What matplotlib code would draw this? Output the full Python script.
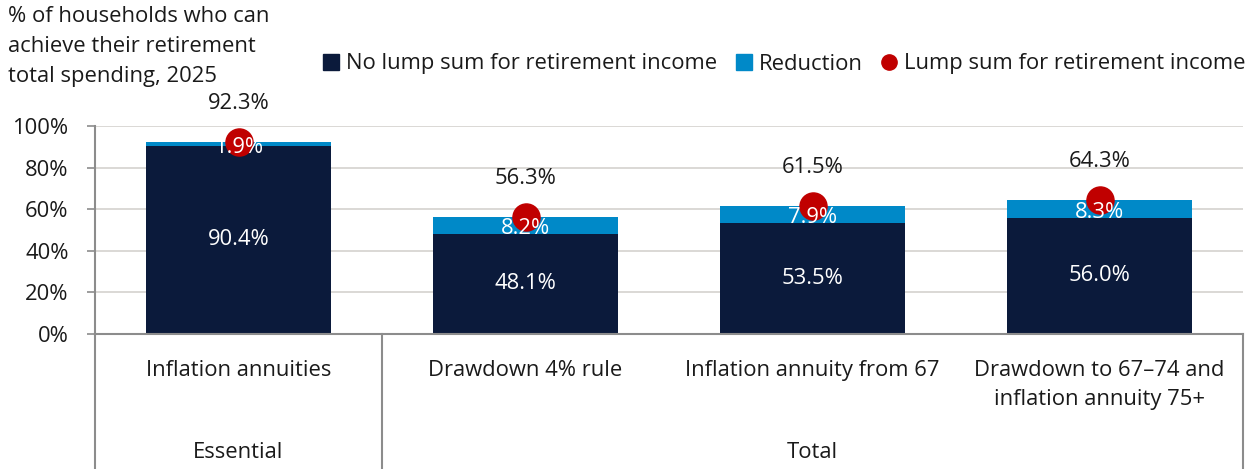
import matplotlib
matplotlib.use("Agg")
import matplotlib.pyplot as plt
from matplotlib.lines import Line2D
import matplotlib.transforms as mtransforms

plt.rcParams['font.family'] = ['Open Sans', 'DejaVu Sans']

# Data
categories = ["Inflation annuities", "Drawdown 4% rule", "Inflation annuity from 67",
              "Drawdown to 67\u201374 and\ninflation annuity 75+"]
groups = ["Essential", "Total"]
group_spans = [(0, 0), (1, 3)]
no_lump_sum = [90.4, 48.1, 53.5, 56.0]
reduction = [1.9, 8.2, 7.9, 8.3]
lump_sum = [92.3, 56.3, 61.5, 64.3]
yticks = [0, 20, 40, 60, 80, 100]

NAVY = "#0B1A3B"
BLUE = "#0089C8"
RED = "#C00000"
GRID = "#D4D2CE"
AXIS = "#8C8C8C"
TXT = "#1A1A1A"
FS = 15.8

fig = plt.figure(figsize=(12.58, 4.69), dpi=100)
ax = fig.add_axes([95 / 1258, 1 - 334 / 469, (1243 - 95) / 1258, 208 / 469])

x = list(range(len(categories)))
width = 0.645
ax.bar(x, no_lump_sum, width=width, color=NAVY, zorder=2)
ax.bar(x, reduction, width=width, bottom=no_lump_sum, color=BLUE, zorder=2)
ax.plot(x, lump_sum, linestyle="none", marker="o", markersize=19.5, color=RED, zorder=3)

for i in x:
    ax.text(i, no_lump_sum[i] / 2, f"{no_lump_sum[i]:.1f}%", ha="center", va="center",
            color="white", fontsize=FS, zorder=5)
    ax.text(i, no_lump_sum[i] + reduction[i] / 2 - 1.5, f"{reduction[i]:.1f}%", ha="center",
            va="center", color="white", fontsize=FS, zorder=5)
    ax.annotate(f"{lump_sum[i]:.1f}%", xy=(i, lump_sum[i]), xytext=(0, 28),
                textcoords="offset points", ha="center", va="center", color=TXT,
                fontsize=FS, zorder=5, annotation_clip=False)

ax.set_xlim(-0.5, len(categories) - 0.5)
ax.set_ylim(0, 100)
ax.set_yticks(yticks)
ax.set_yticklabels([f"{v}%" for v in yticks], fontsize=FS, color=TXT)
ax.yaxis.grid(True, color=GRID, linewidth=1.2, zorder=0)
ax.set_axisbelow(True)
ax.tick_params(axis="y", length=6, width=1.2, color=AXIS, pad=13)
for s in ["top", "right"]:
    ax.spines[s].set_visible(False)
ax.spines["left"].set_color(AXIS)
ax.spines["left"].set_linewidth(1.5)
ax.spines["bottom"].set_color(AXIS)
ax.spines["bottom"].set_linewidth(1.5)

# Two-level category axis
ax.set_xticks(x)
ax.set_xticklabels(categories, fontsize=FS, color=TXT, va="top", linespacing=1.5)
ax.tick_params(axis="x", length=0, pad=19)

trans = mtransforms.blended_transform_factory(ax.transData, ax.transAxes)
bottom_y = -135 / 208
for xs in [-0.5, 0.5, len(categories) - 0.5]:
    ax.plot([xs, xs], [0, bottom_y], transform=trans, color=AXIS, linewidth=1.5,
            clip_on=False, zorder=1)
for name, (a, b) in zip(groups, group_spans):
    ax.text((a + b) / 2, -118 / 208, name, transform=trans, ha="center", va="center",
            fontsize=FS, color=TXT)

# Title
fig.text(8 / 1258, 1 - 6 / 469, "% of households who can\nachieve their retirement\ntotal spending, 2025",
         ha="left", va="top", fontsize=FS, color=TXT, linespacing=1.56)

# Legend
handles = [
    Line2D([], [], linestyle="none", marker="s", markersize=11, color=NAVY),
    Line2D([], [], linestyle="none", marker="s", markersize=11, color=BLUE),
    Line2D([], [], linestyle="none", marker="o", markersize=11, color=RED),
]
labels = ["No lump sum for retirement income", "Reduction", "Lump sum for retirement income"]
fig.legend(handles, labels, ncol=3, loc="center right", bbox_to_anchor=(1246 / 1258, 1 - 64 / 469),
           frameon=False, fontsize=FS, handlelength=0.8, handletextpad=0.3,
           columnspacing=0.8, borderaxespad=0, borderpad=0, labelcolor=TXT)

fig.savefig("out.png", dpi=100)
